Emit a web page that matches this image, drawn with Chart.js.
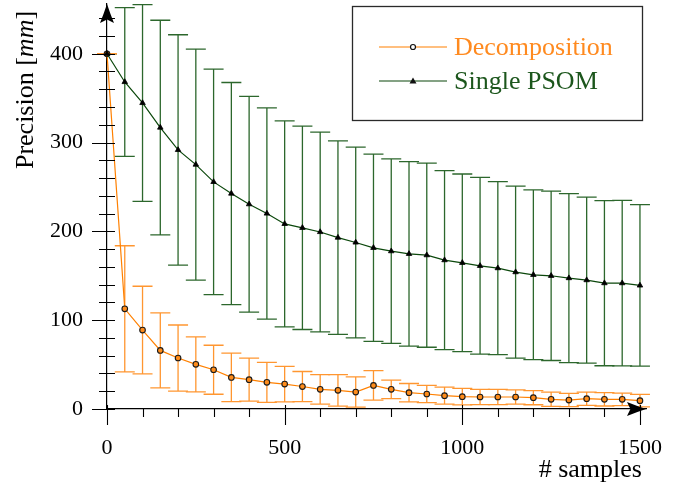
<!DOCTYPE html>
<html><head><meta charset="utf-8">
<script src="https://cdn.jsdelivr.net/npm/chart.js@4/dist/chart.umd.min.js"></script>
<style>html,body{margin:0;padding:0;background:#fff;} canvas{display:block;}</style>
</head><body>
<canvas id="c" width="689" height="489"></canvas>
<script>
const samples = [0,50,100,150,200,250,300,350,400,450,500,550,600,650,700,750,800,850,900,950,1000,1050,1100,1150,1200,1250,1300,1350,1400,1450,1500];
const decompMean = [400,112.8,88.9,66,57.4,50.3,44.2,35.6,33,30,28.1,25.3,22.1,21,19.1,26.6,22.1,18.4,16.9,15,13.9,13.5,13.5,13.5,12.8,10.9,10.1,11.6,10.9,10.9,9.4];
const decompErr = [0,71,49.3,42.2,37.2,31,27.6,27.2,24.2,22.5,20,16.9,16.7,17.7,17,16.7,10.5,10.3,9.8,9.6,9.3,8.5,8.5,8,8,8,7.5,7.5,7.5,7,7];
const psomMean = [400,368.2,344.6,316.9,291.7,275.2,255.7,242.6,230.6,220.1,208.4,204,199.3,193,187.5,181.5,177.7,174.7,173.2,167.6,164.6,161.2,158.6,154.1,151.1,150,147.4,145.1,141.7,141.7,139.1];
const psomErr = [0,83.8,110.8,120.8,129.7,130,127,125,121.5,119,116,114.5,112.5,109,107.4,105.4,103.9,103.9,103.7,100.7,100,99.5,97.3,96.9,95.6,95.4,95.2,93.5,93,93.2,90.9];
const xTickLabels = [0,500,1000,1500];
const yTickLabels = [0,100,200,300,400];
const xMinorTicks = [100,200,300,400,600,700,800,900,1100,1200,1300,1400];
const yMinorTicks = [20,40,60,80,120,140,160,180,220,240,260,280,320,340,360,380,420,440];
const seriesNames = ['Decomposition','Single PSOM'];
const xTitle = '# samples';
const yTitleParts = [['Precision [',false],['mm',true],[']',false]];

const ORANGE = '#ff8000', ORANGE_ERR = '#ff9630', ORANGE_TXT = '#ff8a1f';
const GREEN = '#0b470b', GREEN_ERR = '#2c672c', GREEN_TXT = '#1c561c';
const SERIF = '"Liberation Serif", "DejaVu Serif", serif';

const errPlugin = {
  id: 'errbars',
  beforeDatasetsDraw(chart) {
    const {ctx, scales: {x, y}} = chart;
    const sets = [
      {mean: psomMean, err: psomErr, color: GREEN_ERR},
      {mean: decompMean, err: decompErr, color: ORANGE_ERR}
    ];
    ctx.save();
    sets.forEach(s => {
      ctx.strokeStyle = s.color; ctx.lineWidth = 1.3;
      samples.forEach((sx, i) => {
        const px = x.getPixelForValue(sx);
        const top = y.getPixelForValue(s.mean[i] + s.err[i]);
        const bot = y.getPixelForValue(s.mean[i] - s.err[i]);
        ctx.beginPath();
        ctx.moveTo(px, top); ctx.lineTo(px, bot);
        ctx.moveTo(px - 10, top); ctx.lineTo(px + 10, top);
        ctx.moveTo(px - 10, bot); ctx.lineTo(px + 10, bot);
        ctx.stroke();
      });
    });
    ctx.restore();
  }
};

function arrowHead(ctx, tx, ty, dir) {
  const L = 19, W = 7;
  ctx.beginPath();
  if (dir === 'right') {
    ctx.moveTo(tx, ty);
    ctx.quadraticCurveTo(tx - L * 0.5, ty - W * 0.45, tx - L, ty - W);
    ctx.lineTo(tx - L * 0.82, ty);
    ctx.lineTo(tx - L, ty + W);
    ctx.quadraticCurveTo(tx - L * 0.5, ty + W * 0.45, tx, ty);
  } else {
    ctx.moveTo(tx, ty);
    ctx.quadraticCurveTo(tx - W * 0.45, ty + L * 0.5, tx - W, ty + L);
    ctx.lineTo(tx, ty + L * 0.82);
    ctx.lineTo(tx + W, ty + L);
    ctx.quadraticCurveTo(tx + W * 0.45, ty + L * 0.5, tx, ty);
  }
  ctx.closePath();
  ctx.fill();
}

const decoPlugin = {
  id: 'deco',
  afterDraw(chart) {
    const {ctx, scales: {x, y}, chartArea: ca} = chart;
    ctx.save();
    ctx.strokeStyle = '#000'; ctx.fillStyle = '#000'; ctx.lineWidth = 1.1;
    const ax = x.getPixelForValue(0), ay = y.getPixelForValue(0);
    ctx.beginPath();
    yMinorTicks.forEach(v => { const p = Math.round(y.getPixelForValue(v)) + 0.5; ctx.moveTo(ax - 8, p); ctx.lineTo(ax + 8, p); });
    yTickLabels.forEach(v => { const p = Math.round(y.getPixelForValue(v)) + 0.5; ctx.moveTo(ax - 15, p); ctx.lineTo(ax + 8, p); });
    xMinorTicks.forEach(v => { const p = Math.round(x.getPixelForValue(v)) + 0.5; ctx.moveTo(p, ay); ctx.lineTo(p, ay + 8); });
    xTickLabels.forEach(v => { const p = Math.round(x.getPixelForValue(v)) + 0.5; ctx.moveTo(p, ay - 4); ctx.lineTo(p, ay + 16); });
    ctx.stroke();
    arrowHead(ctx, ca.right, ay, 'right');
    arrowHead(ctx, ax, ca.top, 'up');

    ctx.font = '26px ' + SERIF;
    ctx.textAlign = 'right'; ctx.textBaseline = 'alphabetic';
    ctx.fillText(xTitle, x.getPixelForValue(1500) + 2, 477);

    const parts = yTitleParts.map(([t, it]) => {
      ctx.font = (it ? 'italic ' : '') + '26px ' + SERIF;
      return {t, it, w: ctx.measureText(t).width};
    });
    const total = parts.reduce((a, p) => a + p.w, 0);
    ctx.translate(33, 90 + total / 2);
    ctx.rotate(-Math.PI / 2);
    ctx.textAlign = 'left';
    let cx = 0;
    parts.forEach(p => {
      ctx.font = (p.it ? 'italic ' : '') + '26px ' + SERIF;
      ctx.fillText(p.t, cx, 0);
      cx += p.w;
    });
    ctx.setTransform(1, 0, 0, 1, 0, 0);

    ctx.fillStyle = '#fff';
    ctx.fillRect(352.5, 6.5, 290, 114);
    ctx.strokeStyle = '#2a2a2a'; ctx.lineWidth = 1.3;
    ctx.strokeRect(352.5, 6.5, 290, 114);
    const entries = [
      {name: chart.data.datasets[0].label, line: ORANGE, txt: ORANGE_TXT, y: 47, mark: 'circle'},
      {name: chart.data.datasets[1].label, line: GREEN, txt: GREEN_TXT, y: 81, mark: 'tri'}
    ];
    entries.forEach(e => {
      ctx.strokeStyle = e.line; ctx.lineWidth = 1.2;
      ctx.beginPath(); ctx.moveTo(379, e.y); ctx.lineTo(447, e.y); ctx.stroke();
      ctx.strokeStyle = '#111'; ctx.fillStyle = '#111';
      if (e.mark === 'circle') {
        ctx.fillStyle = '#fff'; ctx.lineWidth = 1.2;
        ctx.beginPath(); ctx.arc(413, e.y, 2.5, 0, Math.PI * 2); ctx.fill(); ctx.stroke();
      } else {
        ctx.beginPath(); ctx.moveTo(413, e.y - 3.5); ctx.lineTo(416.5, e.y + 2.5); ctx.lineTo(409.5, e.y + 2.5); ctx.closePath(); ctx.fill();
      }
      ctx.fillStyle = e.txt;
      ctx.font = '26px ' + SERIF;
      ctx.textAlign = 'left'; ctx.textBaseline = 'alphabetic';
      ctx.fillText(e.name, 454, e.y + 8);
    });
    ctx.restore();
  }
};

new Chart(document.getElementById('c'), {
  type: 'line',
  data: {
    datasets: [
      {
        label: seriesNames[0], order: 1,
        data: samples.map((s, i) => ({x: s, y: decompMean[i]})),
        borderColor: ORANGE, borderWidth: 1.2, tension: 0,
        pointRadius: 2.8, pointBackgroundColor: '#ff8c1a', pointBorderColor: '#1a1a1a', pointBorderWidth: 1.1,
        clip: false
      },
      {
        label: seriesNames[1], order: 0,
        data: samples.map((s, i) => ({x: s, y: psomMean[i]})),
        borderColor: GREEN, borderWidth: 1.2, tension: 0,
        pointStyle: 'triangle', pointRadius: 3.2, pointBackgroundColor: '#000', pointBorderColor: '#000', pointBorderWidth: 0.8,
        clip: false
      }
    ]
  },
  options: {
    responsive: false, animation: false, devicePixelRatio: 1,
    layout: {autoPadding: false, padding: {top: 4, right: 43, left: 0, bottom: 0}},
    plugins: {legend: {display: false}, tooltip: {enabled: false}},
    scales: {
      x: {
        type: 'linear', min: 0, max: 1517,
        grid: {display: false, drawTicks: false},
        border: {display: true, color: '#000', width: 1.2},
        ticks: {font: {family: SERIF, size: 22}, color: '#000', padding: 26, maxRotation: 0, callback: v => String(v)},
        afterBuildTicks: s => { s.ticks = xTickLabels.map(v => ({value: v})); },
        afterFit: s => { s.height = 80; s.paddingLeft = 0; s.paddingRight = 0; }
      },
      y: {
        type: 'linear', min: 0, max: 456,
        grid: {display: false, drawTicks: false},
        border: {display: true, color: '#000', width: 1.2},
        ticks: {font: {family: SERIF, size: 22}, color: '#000', padding: 24, callback: v => String(v)},
        afterBuildTicks: s => { s.ticks = yTickLabels.map(v => ({value: v})); },
        afterFit: s => { s.width = 107; s.paddingTop = 0; s.paddingBottom = 0; }
      }
    }
  },
  plugins: [errPlugin, decoPlugin]
});
</script>
</body></html>
